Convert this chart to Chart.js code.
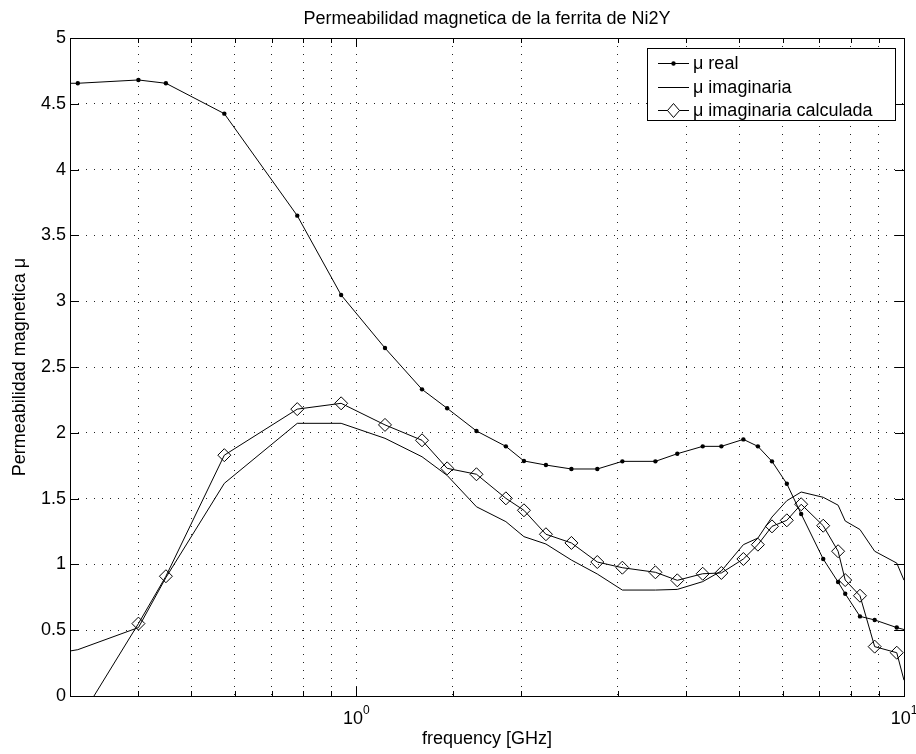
<!DOCTYPE html>
<html>
<head>
<meta charset="utf-8">
<title>Permeabilidad magnetica de la ferrita de Ni2Y</title>
<script src="https://cdn.jsdelivr.net/npm/chart.js@4.4.1/dist/chart.umd.min.js"></script>
<style>
  body { margin: 0; background: #fff; }
  #chart { display: block; }
</style>
</head>
<body>
<canvas id="chart" width="916" height="754"></canvas>
<script>
// data (frequency in GHz)
const frequency = [0.3, 0.31, 0.4, 0.449, 0.574, 0.78, 0.938, 1.128, 1.318, 1.465, 1.657, 1.875, 2.023, 2.219, 2.47, 2.754,
    3.06, 3.516, 3.855, 4.29, 4.64, 5.09, 5.41, 5.74, 6.11, 6.49, 7.12, 7.58, 7.81, 8.31, 8.84, 9.70, 10];
const muReal = [4.656, 4.656, 4.681, 4.656, 4.425, 3.650, 3.047, 2.644, 2.330, 2.186, 2.014, 1.897, 1.786, 1.755, 1.725, 1.725,
    1.783, 1.783, 1.841, 1.897, 1.897, 1.950, 1.897, 1.783, 1.613, 1.383, 1.041, 0.866, 0.777, 0.605, 0.578, 0.520, 0.505];
const muImag = [0.342, 0.352, 0.52, 0.90, 1.616, 2.072, 2.072, 1.958, 1.818, 1.676, 1.438, 1.325, 1.211, 1.155, 1.033, 0.927,
    0.805, 0.805, 0.81, 0.869, 0.95, 1.15, 1.20, 1.36, 1.484, 1.550, 1.510, 1.45, 1.33, 1.265, 1.10, 1.01, 0.88];
const muCalc = [null, -0.2, 0.55, 0.91, 1.83, 2.18, 2.224, 2.06, 1.943, 1.73, 1.685, 1.502, 1.411, 1.229, 1.163, 1.018,
    0.975, 0.940, 0.879, 0.929, 0.935, 1.041, 1.150, 1.289, 1.335, 1.457, 1.294, 1.10, 0.881, 0.762, 0.375, 0.329, 0.12];
const seriesNames = ['\u03bc real', '\u03bc imaginaria', '\u03bc imaginaria calculada'];

const FONT = '"Liberation Sans", Arial, Helvetica, sans-serif';

function toPoints(values) {
    return frequency.map((f, i) => ({ x: f, y: values[i] }));
}

// hide markers that sit on the axis limits
function edgeRadius(r) {
    return ctx => {
        const v = ctx.raw ? ctx.raw.x : 0;
        return (v <= 0.3 || v >= 10) ? 0 : r;
    };
}

// matlab style box, inward ticks, x labels, title and legend
const matlabFrame = {
    id: 'matlabFrame',
    afterDraw(chart) {
        const ctx = chart.ctx;
        const area = chart.chartArea;
        const xs = chart.scales.x;
        const ys = chart.scales.y;
        ctx.save();
        ctx.strokeStyle = '#000';
        ctx.lineWidth = 1;

        // ticks
        ctx.beginPath();
        xs.ticks.forEach(t => {
            const px = Math.round(xs.getPixelForValue(t.value)) + 0.5;
            const lg = Math.log10(t.value);
            const len = Math.abs(lg - Math.round(lg)) < 1e-9 ? 9 : 5;
            ctx.moveTo(px, area.bottom); ctx.lineTo(px, area.bottom - len);
            ctx.moveTo(px, area.top); ctx.lineTo(px, area.top + len);
        });
        ys.ticks.forEach(t => {
            const py = Math.round(ys.getPixelForValue(t.value)) + 0.5;
            ctx.moveTo(area.left, py); ctx.lineTo(area.left + 9, py);
            ctx.moveTo(area.right, py); ctx.lineTo(area.right - 9, py);
        });
        ctx.stroke();

        // box
        ctx.strokeRect(Math.round(area.left) + 0.5, Math.round(area.top) + 0.5,
            Math.round(area.right - area.left), Math.round(area.bottom - area.top));

        // x tick labels as 10^n
        ctx.fillStyle = '#000';
        ctx.textBaseline = 'alphabetic';
        xs.ticks.forEach(t => {
            const lg = Math.log10(t.value);
            if (Math.abs(lg - Math.round(lg)) > 1e-9) return;
            const px = xs.getPixelForValue(t.value);
            const exp = String(Math.round(lg));
            ctx.font = '18px ' + FONT;
            const wBase = ctx.measureText('10').width;
            ctx.font = '12px ' + FONT;
            const wExp = ctx.measureText(exp).width;
            const x0 = px - (wBase + wExp) / 2;
            ctx.font = '18px ' + FONT;
            ctx.textAlign = 'left';
            ctx.fillText('10', x0, area.bottom + 28);
            ctx.font = '12px ' + FONT;
            ctx.fillText(exp, x0 + wBase, area.bottom + 18);
        });

        // title
        ctx.font = '18px ' + FONT;
        ctx.textAlign = 'center';
        ctx.fillText('Permeabilidad magnetica de la ferrita de Ni2Y', (area.left + area.right) / 2, 24);

        // legend
        const lx = 647.5, ly = 48.5, lw = 248, lh = 72;
        ctx.fillStyle = '#fff';
        ctx.fillRect(lx, ly, lw, lh);
        ctx.strokeRect(lx, ly, lw, lh);
        const rows = [63, 87, 110];
        chart.data.datasets.forEach((ds, i) => {
            const y = rows[i] + 0.5;
            ctx.beginPath();
            ctx.moveTo(658, y); ctx.lineTo(689, y);
            ctx.stroke();
            if (ds.pointStyle === 'rectRot') {
                ctx.beginPath();
                ctx.moveTo(673.5, y - 7); ctx.lineTo(679.5, y);
                ctx.lineTo(673.5, y + 7); ctx.lineTo(667.5, y);
                ctx.closePath();
                ctx.fillStyle = '#fff';
                ctx.fill();
                ctx.stroke();
            } else if (ds.label === seriesNames[0]) {
                ctx.beginPath();
                ctx.arc(673.5, y, 2.2, 0, Math.PI * 2);
                ctx.fillStyle = '#000';
                ctx.fill();
            }
            ctx.fillStyle = '#000';
            ctx.textAlign = 'left';
            ctx.textBaseline = 'middle';
            ctx.font = '18px ' + FONT;
            ctx.fillText(ds.label, 693, y + 1);
        });
        ctx.restore();
    }
};

new Chart(document.getElementById('chart').getContext('2d'), {
    type: 'line',
    data: {
        datasets: [
            {
                label: seriesNames[0],
                data: toPoints(muReal),
                borderColor: '#000',
                backgroundColor: '#000',
                borderWidth: 1,
                pointStyle: 'circle',
                pointRadius: edgeRadius(2.2),
                pointBorderWidth: 0,
                tension: 0
            },
            {
                label: seriesNames[1],
                data: toPoints(muImag),
                borderColor: '#000',
                borderWidth: 1,
                pointRadius: 0,
                tension: 0
            },
            {
                label: seriesNames[2],
                data: toPoints(muCalc),
                borderColor: '#000',
                backgroundColor: 'rgba(0,0,0,0)',
                borderWidth: 1,
                pointStyle: 'rectRot',
                pointRadius: edgeRadius(6.5),
                pointBorderWidth: 1,
                pointBorderColor: '#000',
                tension: 0
            }
        ]
    },
    options: {
        responsive: false,
        animation: false,
        devicePixelRatio: 1,
        layout: { padding: { left: 0, right: 12, top: 38, bottom: 0 } },
        plugins: {
            legend: { display: false },
            title: { display: false },
            tooltip: { enabled: false }
        },
        scales: {
            x: {
                type: 'logarithmic',
                min: 0.3,
                max: 10,
                afterFit: scale => { scale.height = 58; },
                grid: { color: '#222', lineWidth: 1, drawTicks: false },
                border: { display: false, dash: [1, 7] },
                ticks: { display: false },
                title: {
                    display: true,
                    text: 'frequency [GHz]',
                    color: '#000',
                    font: { family: FONT, size: 18 },
                    padding: { top: 0, bottom: 4 }
                }
            },
            y: {
                min: 0,
                max: 5,
                afterFit: scale => { scale.width = 70; },
                grid: { color: '#222', lineWidth: 1, drawTicks: false },
                border: { display: false, dash: [1, 7] },
                ticks: {
                    stepSize: 0.5,
                    padding: 4,
                    color: '#000',
                    font: { family: FONT, size: 18 },
                    callback: v => String(Math.round(v * 10) / 10)
                },
                title: {
                    display: true,
                    text: 'Permeabilidad magnetica \u03bc',
                    color: '#000',
                    font: { family: FONT, size: 18 },
                    padding: { top: 9, bottom: 0 }
                }
            }
        }
    },
    plugins: [matlabFrame]
});
</script>
</body>
</html>
